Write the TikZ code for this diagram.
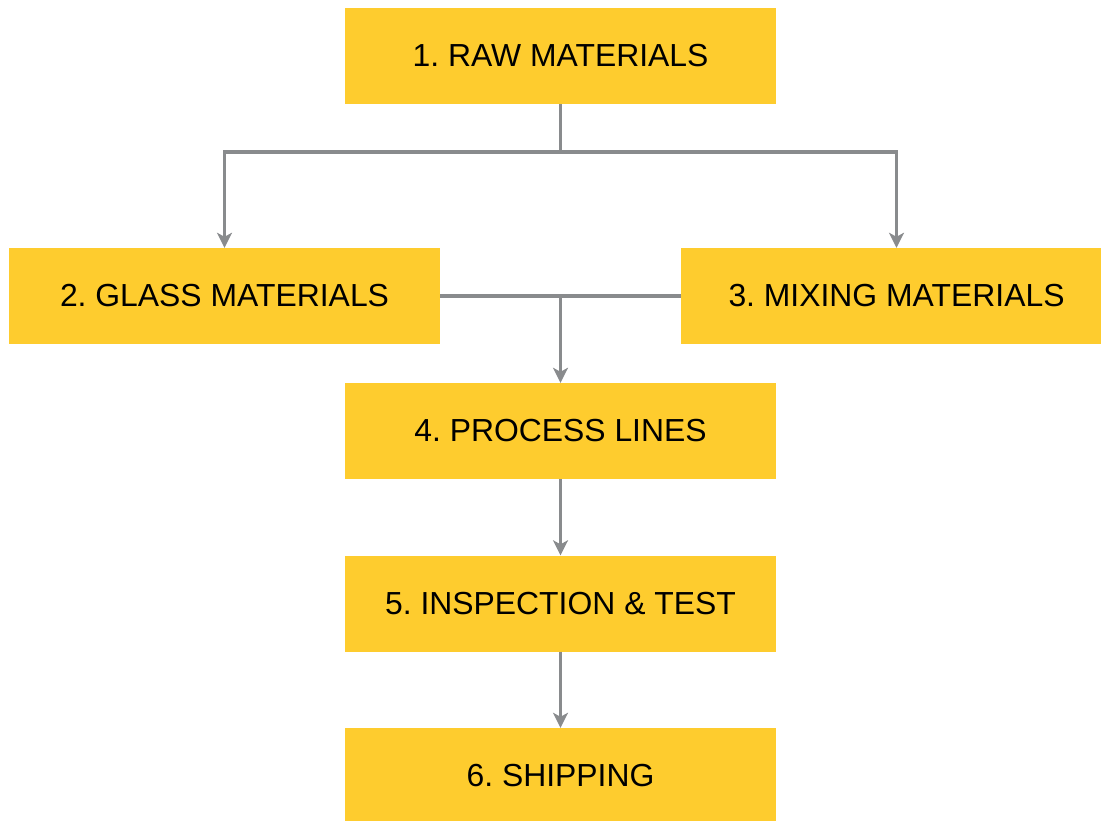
\documentclass[tikz,border=0pt]{standalone}
\usepackage{fontspec}
\setmainfont{Liberation Sans}
\usetikzlibrary{arrows.meta,calc}
\definecolor{boxyellow}{RGB}{254,204,46}
\definecolor{linegray}{RGB}{137,139,141}
\frenchspacing
\begin{document}
\begin{tikzpicture}[x=1bp,y=-1bp,
  stepbox/.style={fill=boxyellow,draw=none,minimum width=431bp,minimum height=96bp,
    inner sep=0pt,font=\fontsize{32}{36}\selectfont},
  conn/.style={draw=linegray,line width=3.5bp},
  flow/.style={conn,-{Stealth[length=15bp,width=15bp,inset=4bp]}}]
  \useasboundingbox (0,0) rectangle (1101,821);
  \begin{scope}
  \clip (0,0) rectangle (1101,821);
  \node[stepbox] (raw)     at (560.5,56)   {1. RAW MATERIALS};
  \node[stepbox] (glass)   at (224.5,296)  {2. GLASS MATERIALS};
  \node[stepbox] (mixing)  at (896.5,296)  {3. MIXING MATERIALS};
  \node[stepbox] (process) at (560.5,431)  {4. PROCESS LINES};
  \node[stepbox] (inspect) at (560.5,603.5){5. INSPECTION \& TEST};
  \node[stepbox] (ship)    at (560.5,776)  {6. SHIPPING};
  \end{scope}
  % split from raw materials to the two material branches
  \coordinate (split) at ($(raw.south)+(0,48)$);
  \draw[conn] (raw.south) -- (split);
  \draw[flow] (split) -| (glass.north);
  \draw[flow] (split) -| (mixing.north);
  % the two branches join and feed the process lines
  \draw[conn] (glass.east) -- (mixing.west);
  \coordinate (join) at (process.north |- glass.east);
  \draw[flow] (join) -- (process.north);
  \draw[flow] (process.south) -- (inspect.north);
  \draw[flow] (inspect.south) -- (ship.north);
\end{tikzpicture}
\end{document}
